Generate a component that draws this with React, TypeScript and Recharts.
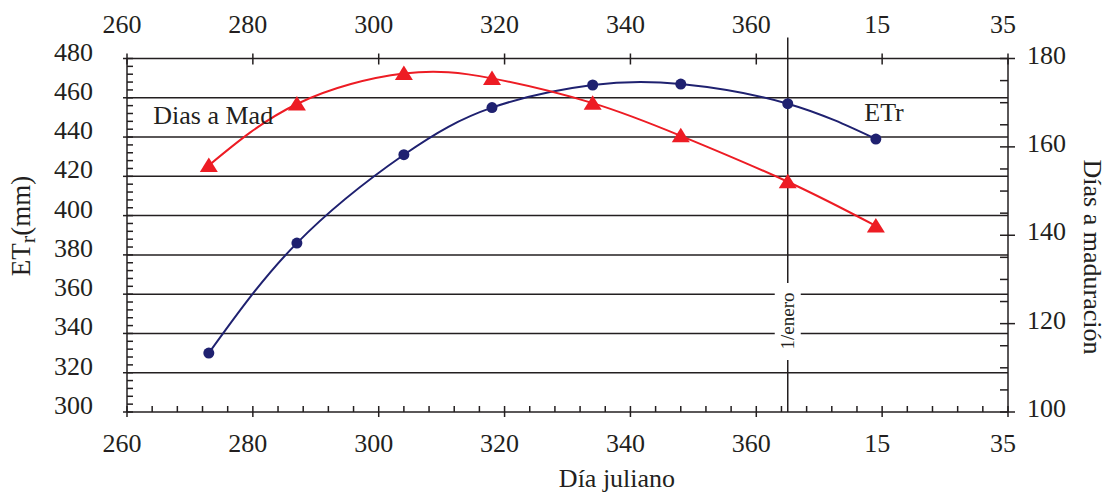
import React from 'react';
import { LineChart, Line, XAxis, YAxis, ReferenceLine, ReferenceDot } from 'recharts';

// Julian day (values > 365 roll over into January)
const dias = [273, 287, 304, 318, 334, 348, 365, 379];
const etr = [330, 386, 431, 455, 466.5, 467, 457, 439];
const diasMaduracion = [155.8, 169.7, 176.6, 175.5, 169.9, 162.5, 152.1, 142.1];

const xMajor = [260, 280, 300, 320, 340, 360, 380, 400];
const leftMajor = [300, 320, 340, 360, 380, 400, 420, 440, 460, 480];
const rightMajor = [100, 120, 140, 160, 180];
const gridValues = [320, 340, 360, 380, 400, 420, 440, 460];

const step = (from: number, to: number, by: number) => {
  const out: number[] = [];
  for (let v = from; v <= to; v += by) out.push(v);
  return out;
};
const xMinor = step(260, 400, 4);
const leftMinor = step(300, 480, 4);
const rightMinor = step(100, 180, 5);

const data = dias.map((d, i) => ({ dia: d, etr: etr[i], mad: diasMaduracion[i] }));

const INK = '#231f20';
const RED = '#ed1c24';
const BLUE = '#1f2170';
const FONT = "'Liberation Serif', 'DejaVu Serif', serif";

const fmtDay = (v: number) => (v > 365 ? v - 365 : v);

const BottomTick = ({ x, y, payload }: any) => {
  const major = xMajor.includes(payload.value);
  return (
    <g>
      <line x1={x} x2={x} y1={y - 6} y2={major ? y + 5 : y} stroke={INK} strokeWidth={1.5} />
      {major && (
        <text x={x - 5} y={y + 40} textAnchor="middle" fontSize={26} fill={INK} fontFamily={FONT}>
          {fmtDay(payload.value)}
        </text>
      )}
    </g>
  );
};

const TopTick = ({ x, y, payload }: any) => (
  <g>
    <line x1={x} x2={x} y1={y - 5} y2={y + 6} stroke={INK} strokeWidth={1.5} />
    <text x={x - 5} y={y - 26} textAnchor="middle" fontSize={26} fill={INK} fontFamily={FONT}>
      {fmtDay(payload.value)}
    </text>
  </g>
);

const LeftTick = ({ x, y, payload }: any) => {
  const major = leftMajor.includes(payload.value);
  return (
    <g>
      <line x1={major ? x - 4 : x} x2={x + 6} y1={y} y2={y} stroke={INK} strokeWidth={1.5} />
      {major && (
        <text x={x - 34} y={y + 2} textAnchor="end" fontSize={26} fill={INK} fontFamily={FONT}>
          {payload.value}
        </text>
      )}
    </g>
  );
};

const RightTick = ({ x, y, payload }: any) => {
  const major = rightMajor.includes(payload.value);
  return (
    <g>
      <line x1={x - 8} x2={major ? x + 7 : x} y1={y} y2={y} stroke={INK} strokeWidth={1.5} />
      {major && (
        <text x={x + 19} y={y + 5} textAnchor="start" fontSize={26} fill={INK} fontFamily={FONT}>
          {payload.value}
        </text>
      )}
    </g>
  );
};

const Triangle = ({ cx, cy }: any) => {
  if (cx == null || cy == null) return null;
  return <polygon points={`${cx},${cy - 8} ${cx - 9},${cy + 6.5} ${cx + 9},${cy + 6.5}`} fill={RED} />;
};

const Dot = ({ cx, cy }: any) => {
  if (cx == null || cy == null) return null;
  return <circle cx={cx} cy={cy} r={5.5} fill={BLUE} />;
};

const EneroLine = ({ x1, y1, x2, y2 }: any) => {
  const top = Math.min(y1, y2);
  const bottom = Math.max(y1, y2);
  return (
    <g>
      <line x1={x1} x2={x2} y1={top - 21} y2={bottom} stroke={INK} strokeWidth={1.5} />
      <rect x={x1 - 13} y={bottom - 129} width={26} height={77} fill="#fff" />
      <text
        transform={`translate(${x1 + 6},${bottom - 91}) rotate(-90)`}
        textAnchor="middle"
        fontSize={19}
        fill={INK}
        fontFamily={FONT}
      >
        1/enero
      </text>
    </g>
  );
};

const NoteLabel = ({ viewBox, text }: any) => (
  <text x={viewBox.x} y={viewBox.y + 9} textAnchor="middle" fontSize={26} fill={INK} fontFamily={FONT}>
    {text}
  </text>
);

export default function App() {
  return (
    <LineChart width={1100} height={486} data={data} margin={{ top: 0, right: 0, bottom: 0, left: 0 }}>
      <XAxis
        xAxisId="bottom"
        dataKey="dia"
        type="number"
        domain={[260, 400]}
        ticks={xMinor}
        interval={0}
        height={82}
        tickSize={0}
        tickMargin={0}
        tickLine={false}
        tick={BottomTick}
        axisLine={{ stroke: INK, strokeWidth: 1.5 }}
        allowDataOverflow
      />
      <XAxis
        xAxisId="top"
        dataKey="dia"
        orientation="top"
        type="number"
        domain={[260, 400]}
        ticks={xMajor}
        interval={0}
        height={50.5}
        tickSize={0}
        tickMargin={0}
        tickLine={false}
        tick={TopTick}
        axisLine={{ stroke: INK, strokeWidth: 1.5 }}
        allowDataOverflow
      />
      <YAxis
        yAxisId="left"
        type="number"
        domain={[300, 480]}
        ticks={leftMinor}
        interval={0}
        width={119}
        tickSize={0}
        tickMargin={0}
        tickLine={false}
        tick={LeftTick}
        axisLine={{ stroke: INK, strokeWidth: 1.5 }}
        allowDataOverflow
      />
      <YAxis
        yAxisId="right"
        orientation="right"
        type="number"
        domain={[100, 180]}
        ticks={rightMinor}
        interval={0}
        width={100}
        tickSize={0}
        tickMargin={0}
        tickLine={false}
        tick={RightTick}
        axisLine={{ stroke: INK, strokeWidth: 1.5 }}
        allowDataOverflow
      />
      {gridValues.map((v) => (
        <ReferenceLine key={v} xAxisId="bottom" yAxisId="left" y={v} stroke={INK} strokeWidth={1.5} />
      ))}
      <ReferenceLine xAxisId="bottom" yAxisId="left" x={365} shape={EneroLine} />
      {/* invisible series so the top axis gets a scale */}
      <Line
        xAxisId="top"
        yAxisId="left"
        dataKey="etr"
        stroke="none"
        dot={false}
        activeDot={false}
        legendType="none"
        isAnimationActive={false}
      />
      <Line
        xAxisId="bottom"
        yAxisId="left"
        dataKey="etr"
        type="natural"
        stroke={BLUE}
        strokeWidth={2}
        dot={Dot}
        activeDot={false}
        isAnimationActive={false}
      />
      <Line
        xAxisId="bottom"
        yAxisId="right"
        dataKey="mad"
        type="natural"
        stroke={RED}
        strokeWidth={2}
        dot={Triangle}
        activeDot={false}
        isAnimationActive={false}
      />
      <ReferenceDot
        xAxisId="bottom"
        yAxisId="left"
        x={273.7}
        y={451.2}
        r={0}
        fill="none"
        stroke="none"
        label={<NoteLabel text="Dias a Mad" />}
      />
      <ReferenceDot
        xAxisId="bottom"
        yAxisId="left"
        x={380.3}
        y={452.8}
        r={0}
        fill="none"
        stroke="none"
        label={<NoteLabel text="ETr" />}
      />
      <text x={609} y={479} textAnchor="middle" fontSize={26} fill={INK} fontFamily={FONT}>
        Día juliano
      </text>
      <text transform="translate(22,218) rotate(-90)" textAnchor="middle" fontSize={27} fill={INK} fontFamily={FONT}>
        ET<tspan fontSize={22} dy={5}>r</tspan>
        <tspan dy={-5}>(mm)</tspan>
      </text>
      <text transform="translate(1076,249) rotate(90)" textAnchor="middle" fontSize={26} fill={INK} fontFamily={FONT}>
        Días a maduración
      </text>
    </LineChart>
  );
}
